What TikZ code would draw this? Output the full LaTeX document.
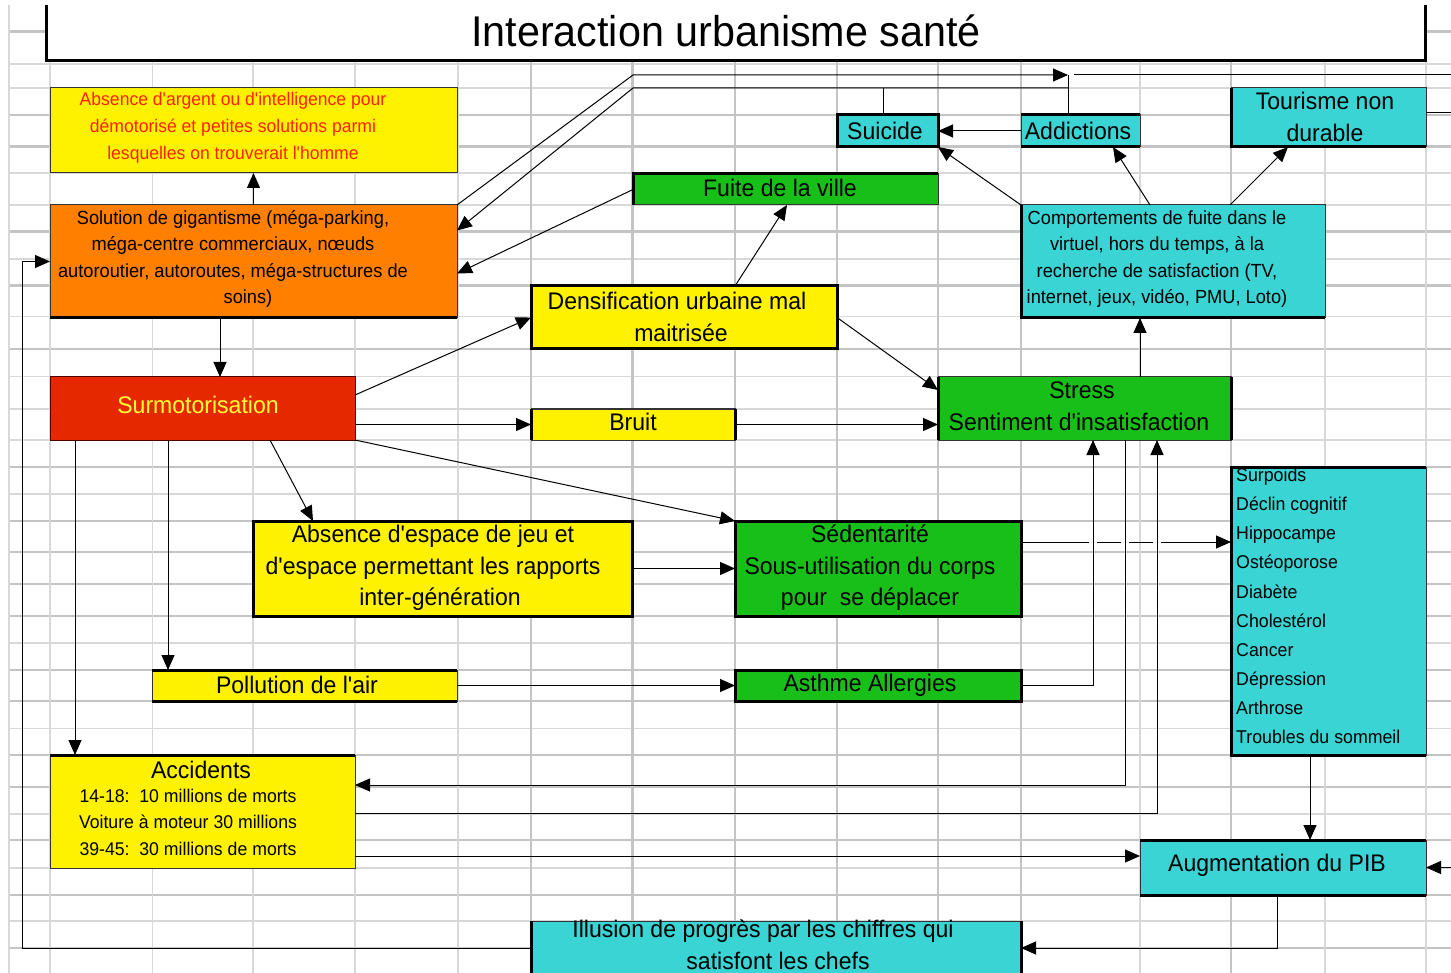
\documentclass[tikz,border=0pt]{standalone}
\usepackage{fontspec}
\setmainfont{Liberation Sans}[FakeStretch=0.96,Ligatures=TeXOff]
\usetikzlibrary{arrows.meta,calc}
\definecolor{cyel}{HTML}{FFF200}
\definecolor{corg}{HTML}{FF7F00}
\definecolor{cred}{HTML}{E62800}
\definecolor{cgrn}{HTML}{19BF19}
\definecolor{ccyn}{HTML}{3AD4D5}
\definecolor{ctxr}{HTML}{FF2200}
\definecolor{ctxy}{HTML}{FFFF33}
\definecolor{gridA}{HTML}{C4C4C4}
\definecolor{gridB}{HTML}{D8D8D8}
\newcommand{\szT}{\fontsize{43}{50}\selectfont}
\newcommand{\szB}{\fontsize{24}{31.5}\selectfont}
\newcommand{\szM}{\fontsize{19}{26.3}\selectfont}
\newcommand{\szR}{\fontsize{18.3}{27}\selectfont}
\newcommand{\szS}{\fontsize{18.4}{26.5}\selectfont}
\newcommand{\szL}{\fontsize{18.5}{29.1}\selectfont}
\tikzset{
  gthick/.style={gridA, line width=2.4pt},
  gthin/.style={gridB, line width=1.2pt},
  box/.style={rectangle, inner sep=0pt, outer sep=0pt, draw=black!80, line width=1pt},
  thk/.style={line width=3pt, black},
  arr/.style={line width=1pt, black, -{Triangle[length=15pt,width=13pt]}},
  con/.style={line width=1pt, black},
  txt/.style={inner sep=0pt, align=center, font=\szB},
}
\begin{document}
\begin{tikzpicture}[x=1pt,y=-1pt]
\useasboundingbox (0,0) rectangle (1451,973);
\clip (0,0) rectangle (1451,973);
\fill[white] (0,0) rectangle (1451,973);
% ---------- spreadsheet grid ----------
\foreach \gy in {88,173,205,259,316.7,376.7,409,440,494,643,728.7,814,868,921,64}
  \draw[gthin] (9,\gy) -- (1451,\gy);
\foreach \gy in {31.7,115,146.7,231.7,285.7,349,466.7,520.7,551.7,584,615.7,669.7,700.7,754.7,787,840,895,948}
  \draw[gthick] (9,\gy) -- (1451,\gy);
\foreach \gx in {9,50,152.5,253,355,458,1140,1325,1426}
  \draw[gthin] (\gx,5) -- (\gx,973);
\foreach \gx in {531,632.5,735,837,938,1021,1231}
  \draw[gthick] (\gx,5) -- (\gx,973);
% ---------- boxes ----------
\node[fill=white, inner sep=0pt, minimum width=1378pt, minimum height=55pt] (titlebox) at (736,32.5) {};
\draw[thk] (titlebox.north west) -- (titlebox.south west) -- (titlebox.south east) -- (titlebox.north east);

\node[box, fill=cyel, minimum width=407pt, minimum height=85pt] (argent) at (253.5,130.5) {};
\node[box, fill=corg, minimum width=407pt, minimum height=113pt] (solution) at (253.5,261.5) {};
\node[box, fill=cred, draw=black!70!red, minimum width=305pt, minimum height=63pt] (surmot) at (202.5,408.5) {};
\node[box, fill=cgrn, minimum width=305pt, minimum height=31pt] (fuite) at (785.5,189.5) {};
\node[box, fill=cyel, minimum width=306pt, minimum height=63pt] (densif) at (684,317.5) {};
\node[box, fill=cyel, minimum width=204pt, minimum height=31pt] (bruit) at (633,424.5) {};
\node[box, fill=cgrn, minimum width=293pt, minimum height=63pt] (stress) at (1084.5,408.5) {};
\node[box, fill=ccyn, minimum width=101pt, minimum height=32pt] (suicide) at (887.5,131) {};
\node[box, fill=ccyn, minimum width=119pt, minimum height=32pt] (addict) at (1080.5,131) {};
\node[box, fill=ccyn, minimum width=195pt, minimum height=59pt] (tourisme) at (1328.5,117.5) {};
\node[box, fill=ccyn, minimum width=304pt, minimum height=113pt] (comport) at (1173,261.5) {};
\node[box, fill=cyel, minimum width=379pt, minimum height=95pt] (espace) at (442.5,568.5) {};
\node[box, fill=cgrn, minimum width=286pt, minimum height=95pt] (sedent) at (878,568.5) {};
\node[box, fill=cyel, minimum width=305pt, minimum height=31pt] (pollution) at (304.5,685.5) {};
\node[box, fill=cgrn, minimum width=286pt, minimum height=31pt] (asthme) at (878,685.5) {};
\node[box, fill=ccyn, minimum width=195pt, minimum height=288pt] (sante) at (1328.5,611) {};
\node[box, fill=cyel, minimum width=305pt, minimum height=113pt] (accidents) at (202.5,811.5) {};
\node[box, fill=ccyn, minimum width=286pt, minimum height=55pt] (pib) at (1283,867.5) {};
\node[box, fill=ccyn, minimum width=490pt, minimum height=69pt] (illusion) at (776,955.5) {};

% thick borders
\draw[thk] (solution.south west) -- (solution.south east);
\draw[thk] (fuite.south west) -- (fuite.north west) -- (fuite.north east);
\draw[thk] (densif.north west) rectangle (densif.south east);
\draw[thk] (bruit.north west) -- (bruit.south west);
\draw[thk] (bruit.north east) -- (bruit.south east);
\draw[thk] (stress.north west) -- (stress.south west);
\draw[thk] (stress.north east) -- (stress.south east);
\draw[thk] (suicide.north west) rectangle (suicide.south east);
\draw[thk] (addict.north west) -- (addict.north east);
\draw[thk] (addict.south west) -- (addict.south east);
\draw[thk] (tourisme.north west) -- (tourisme.south west) -- (tourisme.south east);
\draw[thk] (comport.north west) -- (comport.south west) -- (comport.south east);
\draw[thk] (espace.north west) rectangle (espace.south east);
\draw[thk] (sedent.north west) rectangle (sedent.south east);
\draw[thk] (pollution.north west) -- (pollution.north east);
\draw[thk] (pollution.south west) -- (pollution.south east);
\draw[thk] (asthme.north west) rectangle (asthme.south east);
\draw[thk] (sante.north east) -- (sante.north west) -- (sante.south west) -- (sante.south east);
\draw[thk] (accidents.north west) -- (accidents.north east);
\draw[thk] (pib.north west) -- (pib.north east);
\draw[thk] (pib.south west) -- (pib.south east);
\draw[thk] (illusion.south west) -- (illusion.north west);
\draw[thk] (illusion.south east) -- (illusion.north east);

% ---------- helper coordinates ----------
\coordinate (topA) at (633,75);
\coordinate (topB) at (1068,75);
\coordinate (midA) at (633,88);
\coordinate (midB) at (1068,88);
\coordinate (sucX) at (883,88);
\coordinate (offR1) at (1451,75);
\coordinate (offR2) at (1451,113);
\coordinate (offR3) at (1451,867.5);
\coordinate (loopL) at (22,500);

% ---------- connectors ----------
\draw[arr] (solution.north) -- (argent.south);
\draw[arr] ($(solution.south west)+(170,0)$) -- ($(surmot.north west)+(170,0)$);
\draw[arr] ($(surmot.north east)+(0,18)$) -- (densif.west);
\draw[arr] (surmot.east |- bruit.west) -- (bruit.west);
\draw[arr] (surmot.south east) -- (sedent.north west);
\draw[arr] ($(surmot.south west)+(220,0)$) -- ($(espace.north west)+(60,0)$);
\draw[arr] ($(surmot.south west)+(118,0)$) -- ($(pollution.north west)+(16,0)$);
\draw[arr] ($(surmot.south west)+(25,0)$) -- ($(accidents.north west)+(25,0)$);
\coordinate (illW) at ($(illusion.north west)+(0,27)$);
\draw[arr] (illW) -- (illW -| loopL) -- (loopL |- solution.west) -- (solution.west);
\draw[arr] (fuite.west) -- ($(solution.east)+(0,12)$);
\draw[arr] ($(densif.north west)+(204,0)$) -- ($(fuite.south west)+(154,0)$);
\draw[arr] (densif.east) -- ($(stress.north west)+(0,13)$);
\draw[arr] (bruit.east) -- (stress.west |- bruit.east);
\draw[arr] ($(stress.north west)+(202,0)$) -- ($(comport.south west)+(119,0)$);
\draw[arr] (comport.north west) -- (suicide.south east);
\draw[arr] ($(comport.north west)+(129,0)$) -- ($(addict.south west)+(92,0)$);
\draw[arr] ($(comport.north west)+(209,0)$) -- ($(tourisme.south west)+(57,0)$);
\draw[arr] (addict.west) -- (suicide.east);
\draw[arr] (solution.north east) -- (topA) -- (topB);
\draw[con] ($(addict.north west)+(47,0)$) -- (topB);
\draw[con] ([xshift=6pt]topB) -- (offR1);
\draw[con] (suicide.north -| sucX) -- (sucX);
\draw[arr] (midB) -- (midA) -- ($(solution.east)+(0,-31)$);
\draw[con] ($(tourisme.north east)+(0,25)$) -- (offR2);
\draw[arr] (offR3) -- (pib.east);
\draw[arr] (pollution.east) -- (asthme.west);
\draw[arr] (espace.east) -- (sedent.west);
\draw[arr] ($(sedent.north east)+(0,21)$) -- ($(sante.north west)+(0,75)$);
% gaps where the vertical connectors cross
\fill[white] (1089,539) rectangle (1097,545);
\fill[white] (1121,539) rectangle (1129,545);
\fill[white] (1153,539) rectangle (1161,545);
\draw[arr] ($(stress.south west)+(187,0)$) |- ($(accidents.north east)+(0,30)$);
\draw[arr] ($(accidents.north east)+(0,58)$) -| ($(stress.south west)+(219,0)$);
\draw[arr] (asthme.east) -| ($(stress.south west)+(155,0)$);
\draw[arr] ($(sante.south west)+(79,0)$) -- ($(pib.north west)+(170,0)$);
\draw[arr] ($(accidents.north east)+(0,101)$) -- ($(pib.north west)+(0,16)$);
\draw[arr] ($(pib.south west)+(137,0)$) |- ($(illusion.north east)+(0,27)$);

% ---------- texts ----------
\node[txt, font=\szT] (tTitle) at (726,31) {Interaction urbanisme santé};
\node[txt, font=\szR, text=ctxr] (tArgent) at (233,128) {Absence d'argent ou d'intelligence pour\\démotorisé et petites solutions parmi\\lesquelles on trouverait l'homme};
\node[txt, font=\szM] (tSolution) at (233,259) {Solution de gigantisme (méga-parking,\\méga-centre commerciaux, nœuds\\autoroutier, autoroutes, méga-structures de\\\hspace*{30pt}soins)};
\node[txt, text=ctxy] (tSurmot) at (198,405) {Surmotorisation};
\node[txt] (tFuite) at (780,188) {Fuite de la ville};
\node[txt] (tDensif) at (677,317) {Densification urbaine mal\\\hspace*{8pt}maitrisée};
\node[txt] (tBruit) at (633,422) {Bruit};
\node[txt] (tStress) at (1079,406) {\hspace*{6pt}Stress\\Sentiment d'insatisfaction};
\node[txt] (tSuicide) at (885,131) {Suicide};
\node[txt] (tAddict) at (1078,131) {Addictions};
\node[txt] (tTourisme) at (1325,117) {Tourisme non\\durable};
\node[txt, font=\szM] (tComport) at (1157,259) {Comportements de fuite dans le\\virtuel, hors du temps, à la\\recherche de satisfaction (TV,\\internet, jeux, vidéo, PMU, Loto)};
\node[txt] (tEspace) at (433,568) {Absence d'espace de jeu et\\d'espace permettant les rapports\\\hspace*{14pt}inter-génération};
\node[txt] (tSedent) at (870,568) {Sédentarité\\Sous-utilisation du corps\\pour\ \ se déplacer};
\node[txt] (tPollution) at (297,685) {Pollution de l'air};
\node[txt] (tAsthme) at (870,685) {Asthme Allergies};
\node[txt, font=\szL, align=left, anchor=west] (tSante) at (1236,606) {Surpoids\\Déclin cognitif\\Hippocampe\\Ostéoporose\\Diabète\\Cholestérol\\Cancer\\Dépression\\Arthrose\\Troubles du sommeil};
\node[txt] (tAccidents) at (201,770) {Accidents};
\node[txt, font=\szS] (tAccStats) at (188,822) {14-18:\ \ 10 millions de morts\\Voiture à moteur 30 millions\\39-45:\ \ 30 millions de morts};
\node[txt] (tPib) at (1277,865) {Augmentation du PIB};
\node[txt] (tIllusion) at (763,945) {Illusion de progrès par les chiffres qui\\\hspace*{30pt}satisfont les chefs};
\end{tikzpicture}
\end{document}
